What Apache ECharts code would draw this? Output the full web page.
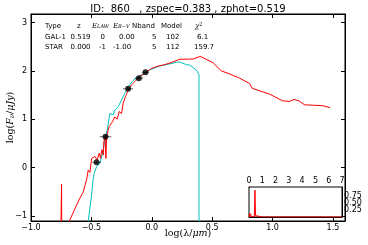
<!DOCTYPE html>
<html><head><meta charset="utf-8">
<script src="https://cdn.jsdelivr.net/npm/echarts@6/dist/echarts.min.js"></script>
<style>html,body{margin:0;padding:0;background:#fff}#c{width:368px;height:245px}</style>
</head><body><div id="c"></div>
<script>
// Galaxy best-fit SED (log lambda, log F)
const galX = [-0.76, -0.747, -0.744, -0.70, -0.678, -0.622, -0.595, -0.567, -0.54, -0.526, -0.512, -0.498, -0.485, -0.471, -0.452, -0.435, -0.424, -0.413, -0.40, -0.397, -0.386, -0.38, -0.374, -0.353, -0.325, -0.306, -0.287, -0.27, -0.25, -0.237, -0.217, -0.196, -0.168, -0.14, -0.10, -0.044, -0.003, 0.052, 0.093, 0.16, 0.231, 0.341, 0.402, 0.507, 0.576, 0.631, 0.727, 0.81, 0.832, 0.975, 1.085, 1.14, 1.18, 1.22, 1.264, 1.416, 1.477];
const galY = [-2.5, -0.34, -2.5, -1.6, -1.08, -0.77, -0.63, -0.50, -0.25, -0.05, -0.10, 0.19, 0.16, 0.23, 0.16, 0.30, 0.19, 0.37, 0.26, 0.54, 0.64, 0.19, 0.64, 0.85, 0.95, 1.05, 1.00, 1.16, 1.12, 1.33, 1.47, 1.60, 1.71, 1.78, 1.88, 1.98, 2.05, 2.10, 2.12, 2.17, 2.24, 2.245, 2.30, 2.17, 2.00, 1.95, 1.85, 1.74, 1.64, 1.52, 1.38, 1.37, 1.41, 1.38, 1.30, 1.28, 1.24];
// Star best-fit SED
const starX = [-0.53, -0.526, -0.498, -0.485, -0.477, -0.457, -0.43, -0.407, -0.388, -0.369, -0.347, -0.333, -0.32, -0.306, -0.278, -0.25, -0.223, -0.196, -0.155, -0.085, -0.017, 0.066, 0.176, 0.204, 0.231, 0.287, 0.314, 0.369, 0.391, 0.391];
const starY = [-1.5, -1.1, -0.56, -0.22, -0.12, 0.02, 0.09, 0.30, 0.57, 0.78, 1.12, 1.16, 1.09, 1.19, 1.26, 1.40, 1.54, 1.67, 1.80, 1.92, 2.02, 2.10, 2.16, 2.18, 2.18, 2.13, 2.12, 2.02, 1.92, -1.5];
// Photometry
const photX = [-0.457, -0.383, -0.196, -0.107, -0.052];
const photY = [0.11, 0.64, 1.63, 1.85, 1.97];
const photXerr = [0.035, 0.048, 0.042, 0.035, 0.025];
const photYerr = [0.03, 0.03, 0.02, 0.02, 0.02];
// P(z) inset
const pzX = [0, 0.03, 0.05, 0.07, 0.10, 0.13, 0.16, 0.19, 0.22, 0.30, 0.40, 0.43, 0.45, 0.47, 0.49, 0.52, 0.6, 1, 7];
const pzY = [0, 0.02, 0.14, 0.02, 0.0, 0.1, 0.02, 0.0, 0.0, 0.0, 0.0, 0.05, 0.95, 0.9, 0.05, 0.0, 0.0, 0.0, 0.0];
// Axis ticks
const yTicks = [-1, 0, 1, 2, 3];
const pzYTicks = [0.25, 0.5, 0.75];
// Table
const tableHeader = ['Type', 'z', 'E_LAW', 'E_B-V', 'Nband', 'Model', 'χ2'];
const tableRows = [
  ['GAL-1', '0.519', '0', '0.00', '5', '102', '6.1'],
  ['STAR', '0.000', '-1', '-1.00', '5', '112', '159.7']
];
const titleText = 'ID:  860   , zspec=0.383 , zphot=0.519';

const F = 'DejaVu Sans';
const minus = s => String(s).replace('-', '\u2212');
const zip = (a, b) => a.map((v, i) => [v, b[i]]);

const colX = [45, 77, 92, 113, 132, 161, 195];
const rowColXr = [[45, 70.5, 100.5, 119, 152, 166, 197], [45, 70.5, 99, 113, 152, 166, 194]];
const graphics = [];
graphics.push({type: 'text', x: 188, y: 9, style: {text: titleText, font: '10px ' + F, fill: '#000', textAlign: 'center', textVerticalAlign: 'middle'}});
const it = {font: 'italic 7px DejaVu Serif', fill: '#000'};
const sb = {font: 'italic 5px DejaVu Serif', fill: '#000', verticalAlign: 'bottom'};
tableHeader.forEach((h, i) => {
  let st;
  if (h === 'E_LAW') st = {text: '{i|E}{s|LAW}', rich: {i: it, s: sb}};
  else if (h === 'E_B-V') st = {text: '{i|E}{s|B\u2212V}', rich: {i: it, s: sb}};
  else if (h === 'χ2') st = {text: '{i|χ}{s|2}', rich: {i: it, s: {font: '5px DejaVu Serif', fill: '#000', verticalAlign: 'top'}}};
  else st = {text: h, font: '7px ' + F, fill: '#000'};
  graphics.push({type: 'text', x: colX[i], y: 26, style: Object.assign({textVerticalAlign: 'middle'}, st)});
});
tableRows.forEach((r, j) => {
  r.forEach((v, i) => {
    graphics.push({type: 'text', x: rowColXr[j][i], y: 37 + j * 10, style: {text: v, font: '7px ' + F, fill: '#000', textVerticalAlign: 'middle'}});
  });
});

const chart = echarts.init(document.getElementById('c'), null, {renderer: 'canvas'});
const axisCommon = {
  axisLine: {show: true, onZero: false, lineStyle: {color: '#000', width: 1}},
  axisTick: {show: true, inside: true, length: 4, lineStyle: {color: '#000'}},
  splitLine: {show: false}
};
const lbl = {color: '#000', fontFamily: F, fontSize: 8, hideOverlap: false};
const NS = 9.5;
chart.setOption({
  animation: false,
  backgroundColor: '#fff',
  graphic: graphics,
  grid: [
    {left: 31, right: 23, top: 14, bottom: 24, containLabel: false, outerBoundsMode: 'none', show: true, borderColor: '#000', borderWidth: 1},
    {left: 249, top: 187, width: 93, height: 30, containLabel: false, outerBoundsMode: 'none', show: true, borderColor: '#000', borderWidth: 1, backgroundColor: '#fff', z: 10}
  ],
  xAxis: [
    Object.assign({}, axisCommon, {gridIndex: 0, type: 'value', min: -1.0, max: 1.6, interval: 0.5, position: 'bottom',
      axisLabel: Object.assign({}, lbl, {margin: 3, showMaxLabel: false, formatter: v => minus(v.toFixed(1))}),
      name: '{t|log(λ/}{i|μm}{t|)}', nameLocation: 'middle', nameGap: 8, nameMoveOverlap: false,
      nameTextStyle: {rich: {t: {fontFamily: 'DejaVu Serif', fontSize: NS, color: '#000'}, i: {fontFamily: 'DejaVu Serif', fontStyle: 'italic', fontSize: NS, color: '#000'}}}}),
    Object.assign({}, axisCommon, {gridIndex: 0, type: 'value', min: -1.0, max: 1.6, interval: 0.5, position: 'top', axisLabel: {show: false}}),
    Object.assign({}, axisCommon, {gridIndex: 1, type: 'value', min: 0, max: 7, interval: 1, position: 'top',
      axisTick: {show: true, inside: true, length: 3, lineStyle: {color: '#000'}},
      axisLabel: Object.assign({}, lbl, {margin: 2, showMinLabel: true, showMaxLabel: true})}),
    Object.assign({}, axisCommon, {gridIndex: 1, type: 'value', min: 0, max: 7, interval: 1, position: 'bottom',
      axisTick: {show: true, inside: true, length: 3, lineStyle: {color: '#000'}}, axisLabel: {show: false}})
  ],
  yAxis: [
    Object.assign({}, axisCommon, {gridIndex: 0, type: 'value', min: -1.103, max: 3.176, position: 'left',
      axisTick: {show: true, inside: true, length: 4, customValues: yTicks, lineStyle: {color: '#000'}},
      axisLabel: Object.assign({}, lbl, {margin: 4, customValues: yTicks, formatter: v => minus(Math.round(v))}),
      name: '{t|log(}{i|F}{s|ν}{t|/}{i|μJy}{t|)}', nameLocation: 'middle', nameGap: 15, nameMoveOverlap: false,
      nameTextStyle: {rich: {t: {fontFamily: 'DejaVu Serif', fontSize: NS, color: '#000'}, i: {fontFamily: 'DejaVu Serif', fontStyle: 'italic', fontSize: NS, color: '#000'}, s: {fontFamily: 'DejaVu Serif', fontStyle: 'italic', fontSize: 7, color: '#000', verticalAlign: 'bottom'}}}}),
    Object.assign({}, axisCommon, {gridIndex: 0, type: 'value', min: -1.103, max: 3.176, position: 'right',
      axisTick: {show: true, inside: true, length: 4, customValues: yTicks, lineStyle: {color: '#000'}}, axisLabel: {show: false}}),
    Object.assign({}, axisCommon, {gridIndex: 1, type: 'value', min: 0, max: 1.06, interval: 0.25, position: 'right',
      axisTick: {show: true, inside: true, length: 3, customValues: pzYTicks, lineStyle: {color: '#000'}},
      axisLabel: Object.assign({}, lbl, {margin: 2, showMinLabel: false, showMaxLabel: false,
        formatter: v => (v > 0.1 && v < 0.9) ? v.toFixed(2) : ''})}),
    Object.assign({}, axisCommon, {gridIndex: 1, type: 'value', min: 0, max: 1.06, position: 'left',
      axisTick: {show: true, inside: true, length: 3, customValues: pzYTicks, lineStyle: {color: '#000'}}, axisLabel: {show: false}})
  ],
  series: [
    {type: 'line', xAxisIndex: 0, yAxisIndex: 0, data: zip(starX, starY), showSymbol: false, symbol: 'none', lineStyle: {color: '#00bfbf', width: 1}, clip: true, z: 2},
    {type: 'line', xAxisIndex: 0, yAxisIndex: 0, data: zip(galX, galY), showSymbol: false, symbol: 'none', lineStyle: {color: '#ff0000', width: 1}, clip: true, z: 3},
    {type: 'custom', xAxisIndex: 0, yAxisIndex: 0, data: photX.map((x, i) => [x, photY[i], photXerr[i], photYerr[i]]), z: 4,
      renderItem: (params, api) => {
        const x = api.value(0), y = api.value(1), ex = api.value(2), ey = api.value(3);
        const a = api.coord([x - ex, y]), b = api.coord([x + ex, y]);
        const c = api.coord([x, y - ey]), d = api.coord([x, y + ey]);
        return {type: 'group', children: [
          {type: 'line', shape: {x1: a[0], y1: a[1], x2: b[0], y2: b[1]}, style: {stroke: '#000', lineWidth: 1, opacity: 0.6}},
          {type: 'line', shape: {x1: c[0], y1: c[1], x2: d[0], y2: d[1]}, style: {stroke: '#000', lineWidth: 1, opacity: 0.6}}
        ]};
      }},
    {type: 'scatter', xAxisIndex: 0, yAxisIndex: 0, data: zip(photX, photY), symbol: 'circle', symbolSize: 6, itemStyle: {color: '#000'}, z: 5},
    {type: 'line', xAxisIndex: 2, yAxisIndex: 2, data: zip(pzX, pzY), showSymbol: false, symbol: 'none', lineStyle: {color: '#ff0000', width: 1}, clip: true, z: 20}
  ]
});
</script></body></html>
